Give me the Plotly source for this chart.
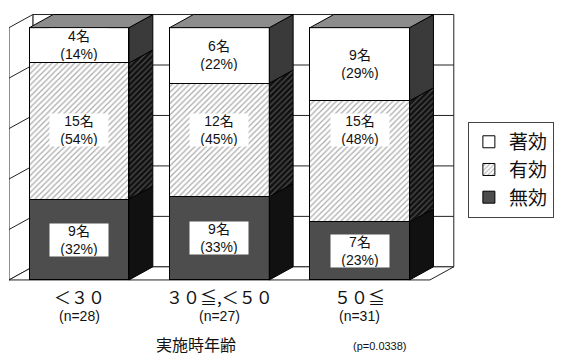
import plotly.graph_objects as go

# ---------------- data ----------------
categories = ["＜３０", "３０≦,＜５０", "５０≦"]
n_values = [28, 27, 31]
series_names = ["無効", "有効", "著効"]          # bottom -> top
counts = {
    "無効": [9, 9, 7],
    "有効": [15, 12, 15],
    "著効": [4, 6, 9],
}
percents = {
    "無効": [32, 33, 23],
    "有効": [54, 45, 48],
    "著効": [14, 22, 29],
}
axis_title = "実施時年齢"
p_text = "(p=0.0338)"
grid_vals = [20, 40, 60, 80]

# ---------------- style ----------------
BAR_W = 0.71
DX = 0.17      # depth offset in x (category units)
DY = 5.2       # depth offset in y (percent units)
X_MIN, X_MAX = -0.5, 2.5
HATCH_LABEL_Y = 59.5
FONT_NUM = "Liberation Sans, Arial, Noto Sans CJK JP"
FONT_JP = "Noto Sans CJK JP"

front_style = {
    "無効": dict(color="#4d4d4d"),
    "有効": dict(color="white", pattern=dict(shape="/", bgcolor="white", fgcolor="#555555",
                                            size=4, solidity=0.3)),
    "著効": dict(color="white"),
}
side_style = {
    "無効": dict(fillcolor="#111111"),
    "有効": dict(fillcolor="#111111", fillpattern=dict(shape="/", bgcolor="#111111",
                                                       fgcolor="#8a8a8a", size=4, solidity=0.3)),
    "著効": dict(fillcolor="#3a3a3a"),
}
TOP_COLOR = "#8c8c8c"

x_pos = list(range(len(categories)))
fig = go.Figure()

# ---------------- walls / floor (shapes below traces) ----------------
shapes = []
bx0, bx1 = X_MIN + DX, X_MAX + DX
shapes.append(dict(type="rect", xref="x", yref="y", x0=bx0, x1=bx1, y0=DY, y1=100 + DY,
                   fillcolor="white", line=dict(color="#222", width=1), layer="below"))
shapes.append(dict(type="path", xref="x", yref="y", layer="below",
                   path=f"M {X_MIN},0 L {bx0},{DY} L {bx0},{100+DY} L {X_MIN},100 Z",
                   fillcolor="white", line=dict(color="#222", width=1)))
shapes.append(dict(type="path", xref="x", yref="y", layer="below",
                   path=f"M {X_MIN},0 L {X_MAX},0 L {bx1},{DY} L {bx0},{DY} Z",
                   fillcolor="white", line=dict(color="#222", width=1)))
for v in grid_vals:
    shapes.append(dict(type="line", xref="x", yref="y", layer="below",
                       x0=bx0, x1=bx1, y0=v + DY, y1=v + DY, line=dict(color="#222", width=1)))
    shapes.append(dict(type="line", xref="x", yref="y", layer="below",
                       x0=X_MIN, x1=bx0, y0=v, y1=v + DY, line=dict(color="#222", width=1)))

# ---------------- front faces (stacked bars) ----------------
for name in series_names:
    fig.add_trace(go.Bar(
        x=x_pos, y=percents[name], width=BAR_W, name=name,
        legendgroup=name,
        marker=dict(line=dict(color="black", width=1), **front_style[name]),
        hoverinfo="skip",
    ))

# ---------------- side and top faces ----------------
for i, xc in enumerate(x_pos):
    xr = xc + BAR_W / 2
    xl = xc - BAR_W / 2
    base = 0
    for name in series_names:
        h = percents[name][i]
        y0, y1 = base, base + h
        fig.add_trace(go.Scatter(
            x=[xr, xr + DX, xr + DX, xr, xr],
            y=[y0, y0 + DY, y1 + DY, y1, y0],
            mode="lines", fill="toself", line=dict(color="black", width=1),
            showlegend=False, hoverinfo="skip", **side_style[name]))
        base = y1
    fig.add_trace(go.Scatter(
        x=[xl, xl + DX, xr + DX, xr, xl],
        y=[base, base + DY, base + DY, base, base],
        mode="lines", fill="toself", fillcolor=TOP_COLOR, line=dict(color="black", width=1),
        showlegend=False, hoverinfo="skip"))

# ---------------- labels ----------------
annotations = []
for i, xc in enumerate(x_pos):
    base = 0
    for name in series_names:
        h = percents[name][i]
        yc = base + h / 2
        if name == "有効":
            yc = HATCH_LABEL_Y
        annotations.append(dict(
            x=xc, y=yc, xref="x", yref="y", showarrow=False,
            xanchor="center", yanchor="middle",
            text=f"{counts[name][i]}名<br>({percents[name][i]}%)",
            font=dict(family=FONT_NUM, size=14, color="#111"),
            bgcolor="white", width=58, height=32, borderpad=0, align="center"))
        base += h
    annotations.append(dict(
        x=xc, y=-0.042, xref="x", yref="paper", showarrow=False,
        xanchor="center", yanchor="middle",
        text=categories[i], font=dict(family=FONT_JP, size=17, color="#111")))
    annotations.append(dict(
        x=xc, y=-0.111, xref="x", yref="paper", showarrow=False,
        xanchor="center", yanchor="middle",
        text=f"(n={n_values[i]})", font=dict(family=FONT_NUM, size=14, color="#111")))

annotations.append(dict(x=0.417, y=-0.213, xref="paper", yref="paper", showarrow=False,
                        xanchor="center", yanchor="middle",
                        text=axis_title, font=dict(family=FONT_JP, size=16, color="#111")))
annotations.append(dict(x=0.827, y=-0.222, xref="paper", yref="paper", showarrow=False,
                        xanchor="center", yanchor="middle",
                        text=p_text, font=dict(family=FONT_NUM, size=11, color="#111")))

fig.update_layout(
    width=563, height=356,
    margin=dict(l=9, r=103, t=10, b=71),
    barmode="stack",
    plot_bgcolor="white", paper_bgcolor="white",
    shapes=shapes, annotations=annotations,
    showlegend=True,
    legend=dict(x=1.022, y=0.593, xanchor="left", yanchor="top",
                traceorder="reversed", tracegroupgap=10,
                font=dict(family=FONT_JP, size=19, color="#111"),
                bordercolor="#444", borderwidth=1, bgcolor="white"),
    xaxis=dict(range=[X_MIN, 2.7], showticklabels=False,
               showgrid=False, zeroline=False, showline=False, ticks=""),
    yaxis=dict(range=[-2, 107], showticklabels=False, showgrid=False,
               zeroline=False, showline=False),
)

fig.write_html("out.html")
